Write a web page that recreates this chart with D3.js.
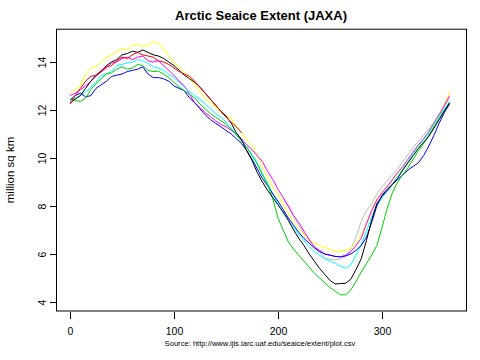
<!DOCTYPE html>
<html><head><meta charset="utf-8">
<script src="https://cdn.jsdelivr.net/npm/d3@7"></script>
<style>
html,body{margin:0;padding:0;background:#fff;}
text{font-family:"Liberation Sans",Arial,sans-serif;}
</style></head>
<body><svg id="c" width="480" height="360"></svg>
<script>
const days = [0,5,10,15,20,25,30,35,40,45,
  50,55,60,65,70,75,80,85,90,95,
  100,105,110,115,120,125,130,135,140,145,
  150,155,160,165,170,175,180,185,190,195,
  200,205,210,215,220,225,230,235,240,245,
  250,255,260,265,270,275,280,285,290,295,
  300,305,310,315,320,325,330,335,340,345,
  350,355,360,365];

const grayValues = Array(41).fill(null).concat([
  8.3,7.95,7.55,7.2,6.85,6.55,6.3,6.05,5.85,5.78,
  5.75,5.8,5.88,6.2,6.7,7.35,7.8,8.1,8.5,8.8,
  9.05,9.3,9.55,9.85,10.15,10.45,10.7,10.95,11.2,11.5,
  11.85,12.15,12.5]);

const yellowValues = [12.7,12.85,13.0,13.5,13.75,13.8,14.0,14.2,14.3,14.45,
  14.55,14.5,14.7,14.75,14.65,14.7,14.85,14.8,14.55,14.25,
  13.95,13.8,13.6,13.35,13.05,12.75,12.5,12.3,12.15,11.9,
  11.75,11.65,11.3,11.05,10.75,10.5,10.15,9.65,9.2,8.8,
  8.5,8.05,7.7,7.35,7.05,6.8,6.6,6.45,6.35,6.28,
  6.2,6.1,6.12,6.15,6.25,6.45,6.8,7.3,7.85,8.3,
  8.6,8.85,9.05,9.35,9.6,9.85,10.2,10.45,10.8,11.1,
  11.45,11.8,12.25,12.75];

const magentaValues = [12.6,12.7,12.85,13.0,13.2,13.4,13.6,13.75,13.95,14.0,
  14.15,14.2,14.1,14.2,14.25,14.05,14.0,14.05,13.85,13.65,
  13.45,13.2,13.0,12.65,12.3,12.1,11.9,11.72,11.55,11.4,
  11.3,11.15,11.0,10.8,10.55,10.35,10.1,9.85,9.45,9.1,
  8.7,8.35,8.0,7.6,7.3,6.95,6.6,6.3,6.15,6.0,
  5.95,5.9,5.88,5.95,6.1,6.35,6.65,7.25,7.8,8.25,
  8.55,8.8,9.1,9.4,9.65,9.95,10.25,10.55,10.8,11.1,
  11.45,11.8,12.2,12.6];

const cyanValues = [12.45,12.5,12.6,12.75,12.95,13.15,13.45,13.5,13.6,13.85,
  13.9,13.95,14.0,14.1,14.05,13.95,13.8,13.75,13.65,13.5,
  13.35,13.15,12.95,12.75,12.6,12.45,12.25,12.05,11.85,11.7,
  11.5,11.25,11.0,10.75,10.45,10.15,9.8,9.35,8.95,8.5,
  8.1,7.7,7.4,7.1,6.8,6.55,6.3,6.1,5.95,5.8,
  5.7,5.62,5.5,5.4,5.55,5.95,6.4,6.95,7.55,8.0,
  8.35,8.6,8.9,9.25,9.55,9.85,10.2,10.5,10.75,11.05,
  11.4,11.75,12.05,12.35];

const blueValues = [12.4,12.6,12.7,12.55,12.6,12.9,13.05,13.2,13.4,13.45,
  13.5,13.6,13.65,13.7,13.8,13.5,13.35,13.35,13.3,13.2,
  13.0,12.9,12.8,12.5,12.3,12.05,11.8,11.6,11.45,11.3,
  11.15,11.0,10.8,10.6,10.3,9.95,9.55,9.15,8.85,8.5,
  8.2,7.85,7.5,7.2,6.9,6.65,6.45,6.25,6.1,6.0,
  5.95,5.9,5.88,5.92,6.0,6.15,6.35,6.7,7.3,8.0,
  8.45,8.7,8.9,9.1,9.3,9.5,9.65,9.8,10.1,10.5,
  10.95,11.45,11.9,12.25];

const greenValues = [12.45,12.4,12.35,12.5,12.85,13.1,13.3,13.5,13.55,13.7,
  13.8,13.7,13.75,13.9,13.85,13.65,13.6,13.62,13.5,13.35,
  13.15,12.95,12.8,12.65,12.5,12.25,12.05,11.85,11.7,11.55,
  11.4,11.2,10.95,10.7,10.45,10.1,9.75,9.3,8.9,8.3,
  7.5,7.0,6.5,6.2,5.95,5.7,5.45,5.2,5.0,4.8,
  4.6,4.45,4.3,4.3,4.5,4.85,5.25,5.6,5.95,6.35,
  7.1,7.9,8.55,9.0,9.3,9.6,9.95,10.3,10.6,10.95,
  11.3,11.65,12.0,12.3];

const blackValues = [12.3,12.45,12.6,12.9,13.2,13.45,13.6,13.85,14.0,14.1,
  14.3,14.35,14.45,14.4,14.5,14.4,14.3,14.25,14.15,14.0,
  13.85,13.65,13.45,13.3,13.15,12.95,12.7,12.45,12.2,11.95,
  11.75,11.45,11.05,10.75,10.3,9.9,9.4,9.0,8.65,8.35,
  8.05,7.75,7.4,7.0,6.65,6.35,6.0,5.7,5.4,5.15,
  4.9,4.75,4.77,4.78,4.95,5.35,5.8,6.55,7.4,8.1,
  8.4,8.65,8.9,9.15,9.5,9.8,10.1,10.4,10.65,10.9,
  11.25,11.6,11.95,12.3];

const redValues = [12.25,12.6,12.9,13.2,13.4,13.45,13.65,13.8,13.85,14.05,
  14.2,14.15,14.3,14.4,14.3,14.25,14.2,14.05,14.0,13.9,
  13.75,13.6,13.5,13.4,13.2,12.95,12.7,12.45,12.2,11.95,
  11.7,11.5,11.3,11.05].concat(Array(40).fill(null));

const seriesColors = ["#bebebe","#ffff00","#ff00ff","#00ffff","#0000ff","#00cd00","#000000","#ff0000"];
const seriesValues = [grayValues,yellowValues,magentaValues,cyanValues,blueValues,greenValues,blackValues,redValues];

const xTicks = [0,100,200,300];
const yTicks = [4,6,8,10,12,14];
const titleText = "Arctic Seaice Extent (JAXA)";
const yTitle = "million sq km";
const sourceText = "Source:  http://www.ijis.iarc.uaf.edu/seaice/extent/plot.csv";

const svg = d3.select("#c");
const L=56, R=466, T=28.7, B=311;
const x = d3.scaleLinear().domain([-13.46, 380.77]).range([L, R]);
const y = d3.scaleLinear().domain([3.625, 15.3875]).range([B, T]);

const line = d3.line().defined(d => d[1] != null).x(d => x(d[0])).y(d => y(d[1]));
seriesValues.forEach((vals, i) => {
  svg.append("path")
    .datum(days.map((d, j) => [d, vals[j]]))
    .attr("d", line)
    .attr("fill", "none")
    .attr("stroke", seriesColors[i])
    .attr("stroke-width", 1);
});

svg.append("rect").attr("x", L+0.5).attr("y", T+0.5).attr("width", R-L).attr("height", B-T-0.5)
  .attr("fill","none").attr("stroke","#000").attr("stroke-width",1);

const xa = svg.append("g").attr("transform", `translate(0,${B+0.5})`)
  .call(d3.axisBottom(x).tickValues(xTicks).tickSize(7).tickPadding(9.5).tickFormat(d3.format("d")));
xa.select(".domain").remove();
xa.selectAll("text").attr("font-size", 10.5).attr("font-family","Liberation Sans, Arial, sans-serif").attr("fill","#000");
xa.selectAll("line").attr("stroke","#000").attr("shape-rendering","crispEdges");

const ya = svg.append("g").attr("transform", `translate(${L+0.5},0)`)
  .call(d3.axisLeft(y).tickValues(yTicks).tickSize(7).tickFormat(d3.format("d")));
ya.select(".domain").remove();
ya.selectAll("line").attr("stroke","#000").attr("shape-rendering","crispEdges");
ya.selectAll("text")
  .attr("font-size", 10.5).attr("font-family","Liberation Sans, Arial, sans-serif").attr("fill","#000")
  .attr("x", null).attr("dy", null)
  .attr("text-anchor","middle")
  .attr("transform", "translate(-14,0) rotate(-90)")
  .attr("y", 0).attr("dy","0.35em");

svg.append("text").attr("x", 261).attr("y", 20).attr("text-anchor","middle")
  .attr("font-size", 13).attr("font-weight","bold").text(titleText);

svg.append("text").attr("transform","translate(14,170) rotate(-90)").attr("text-anchor","middle")
  .attr("font-size", 11.5).text(yTitle);

svg.append("text").attr("x", 260).attr("y", 346).attr("text-anchor","middle")
  .attr("font-size", 7.6).text(sourceText);
</script></body></html>
